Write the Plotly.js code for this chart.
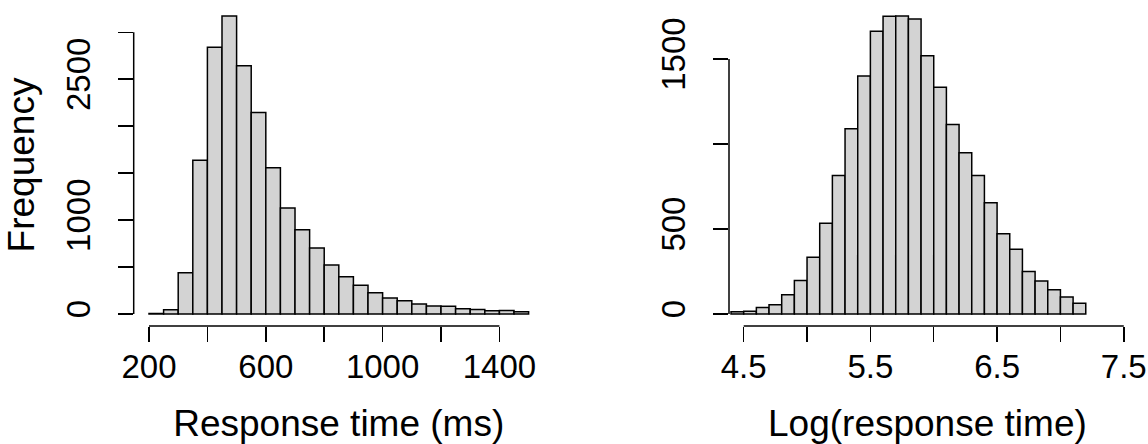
<!DOCTYPE html>
<html>
<head>
<meta charset="utf-8">
<script src="https://cdn.plot.ly/plotly-3.0.1.min.js"></script>
<style>html,body{margin:0;padding:0;background:#fff;}#chart{width:1148px;height:444px;}</style>
</head>
<body>
<div id="chart"></div>
<script>
// ---- Data ----
// Left panel: raw response time (ms), bins of 50 ms
const rtBinStart = [200,250,300,350,400,450,500,550,600,650,700,750,800,850,900,950,1000,1050,1100,1150,1200,1250,1300,1350,1400,1450];
const rtBinWidth = 50;
const rtCounts = [5,46,441,1638,2840,3174,2644,2147,1557,1130,899,704,522,398,306,227,171,142,107,85,82,57,50,36,39,25];
const rtXTicks = [200,400,600,800,1000,1200,1400];
const rtXTickText = ['200','','600','','1000','','1400'];
const rtYTicks = [0,500,1000,1500,2000,2500,3000];
const rtYTickText = ['0','','1000','','','2500',''];

// Right panel: log response time, bins of 0.1
const logBinStart = [4.4,4.5,4.6,4.7,4.8,4.9,5.0,5.1,5.2,5.3,5.4,5.5,5.6,5.7,5.8,5.9,6.0,6.1,6.2,6.3,6.4,6.5,6.6,6.7,6.8,6.9,7.0,7.1];
const logBinWidth = 0.1;
const logCounts = [14,16,39,55,114,198,334,534,815,1090,1400,1663,1751,1753,1735,1519,1333,1115,948,815,654,473,381,251,194,143,100,63];
const logXTicks = [4.5,5.0,5.5,6.0,6.5,7.0,7.5];
const logXTickText = ['4.5','','5.5','','6.5','','7.5'];
const logYTicks = [0,500,1000,1500];
const logYTickText = ['0','500','','1500'];

// ---- Style ----
const W = 1148, H = 444;
const FONT = 'Liberation Sans, Arial, Helvetica, sans-serif';
const tickFont = {family: FONT, size: 33, color: '#000'};
const titleFont = {family: FONT, size: 37, color: '#000'};
const barFill = '#D3D3D3';
const lw = 1.5;

const xDom1 = [133.7 / W, 543.8 / W];
const xDom2 = [729 / W, 1125.8 / W];
const yDom = [(H - 326) / H, (H - 4) / H];

function yRange(counts) {
  const m = Math.max(...counts);
  return [-0.04 * m, 1.04 * m];
}

const traces = [
  {
    type: 'bar', x: rtBinStart, y: rtCounts, width: rtBinWidth, offset: 0,
    marker: {color: barFill, line: {color: '#000', width: lw}},
    xaxis: 'x', yaxis: 'y', hoverinfo: 'x+y'
  },
  {
    type: 'bar', x: logBinStart, y: logCounts, width: logBinWidth, offset: 0,
    marker: {color: barFill, line: {color: '#000', width: lw}},
    xaxis: 'x2', yaxis: 'y2', hoverinfo: 'x+y'
  }
];

const axCommon = {
  showgrid: false, zeroline: false, showline: false,
  ticks: 'outside', ticklen: 15, tickwidth: lw, tickcolor: '#000',
  tickfont: tickFont, tickmode: 'array', automargin: false, fixedrange: true
};

const layout = {
  width: W, height: H,
  margin: {l: 0, r: 0, t: 0, b: 0, pad: 0},
  paper_bgcolor: '#fff', plot_bgcolor: '#fff',
  showlegend: false, bargap: 0,
  xaxis: Object.assign({}, axCommon, {
    domain: xDom1, anchor: 'y', range: [147.6, 1552],
    tickvals: rtXTicks, ticktext: rtXTickText,
    ticklabelstandoff: -4,
    title: {text: 'Response time (ms)', font: titleFont, standoff: 35}
  }),
  yaxis: Object.assign({}, axCommon, {
    domain: yDom, anchor: 'x', range: yRange(rtCounts),
    tickvals: rtYTicks, ticktext: rtYTickText, tickangle: -90,
    ticklabelstandoff: 15,
    title: {text: 'Frequency', font: titleFont, standoff: 13}
  }),
  xaxis2: Object.assign({}, axCommon, {
    domain: xDom2, anchor: 'y2', range: [4.384, 7.516],
    tickvals: logXTicks, ticktext: logXTickText,
    ticklabelstandoff: -4,
    title: {text: 'Log(response time)', font: titleFont, standoff: 35}
  }),
  yaxis2: Object.assign({}, axCommon, {
    domain: yDom, anchor: 'x2', range: yRange(logCounts),
    tickvals: logYTicks, ticktext: logYTickText, tickangle: -90,
    ticklabelstandoff: 15
  }),
  shapes: [
    // R-style axis lines spanning the tick range only
    {type: 'line', xref: 'paper', yref: 'y', x0: xDom1[0], x1: xDom1[0],
     y0: rtYTicks[0], y1: rtYTicks[rtYTicks.length - 1], line: {color: '#000', width: lw}},
    {type: 'line', xref: 'x', yref: 'paper', y0: yDom[0], y1: yDom[0],
     x0: rtXTicks[0], x1: rtXTicks[rtXTicks.length - 1], line: {color: '#000', width: lw}},
    {type: 'line', xref: 'paper', yref: 'y2', x0: xDom2[0], x1: xDom2[0],
     y0: logYTicks[0], y1: logYTicks[logYTicks.length - 1], line: {color: '#000', width: lw}},
    {type: 'line', xref: 'x2', yref: 'paper', y0: yDom[0], y1: yDom[0],
     x0: logXTicks[0], x1: logXTicks[logXTicks.length - 1], line: {color: '#000', width: lw}}
  ]
};

Plotly.newPlot('chart', traces, layout, {displayModeBar: false, staticPlot: true});
</script>
</body>
</html>
